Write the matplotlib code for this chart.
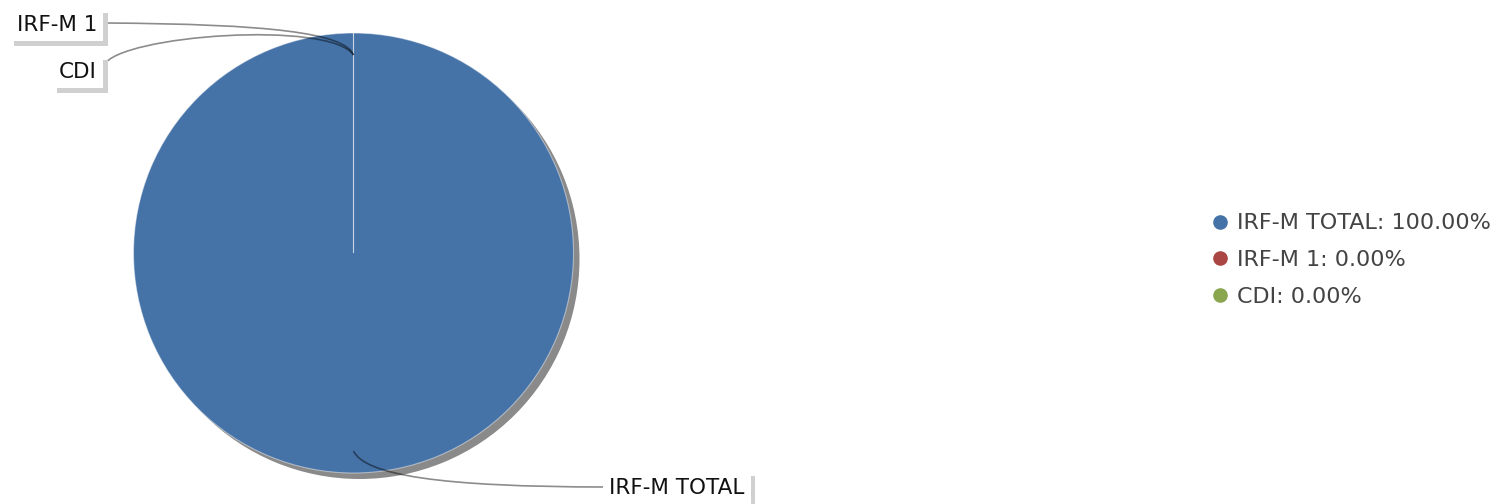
import numpy as np
import matplotlib.pyplot as plt
from matplotlib.path import Path
from matplotlib.patches import PathPatch
from matplotlib.lines import Line2D
import matplotlib.patheffects as pe

# dane
nazwy = ["IRF-M TOTAL", "IRF-M 1", "CDI"]
wartosci = [100.0, 0.0, 0.0]
kolory = ["#4572A7", "#AA4643", "#89A54E"]

W, H = 1499, 504
fig = plt.figure(figsize=(W / 100, H / 100), dpi=100)
ax = fig.add_axes([0, 0, 1, 1])

# srodek i promien kola w pikselach (y liczone od dolu)
cx, cy, R = 353.5, H - 253, 220

wedges, _ = ax.pie(wartosci, colors=kolory, startangle=90, counterclock=False,
                   center=(cx, cy), radius=R, frame=True,
                   wedgeprops=dict(edgecolor=(1, 1, 1, 0.45), linewidth=0.8),
                   shadow=dict(ox=6 * 0.72, oy=-6 * 0.72, facecolor="#8a8a8a",
                               edgecolor="none", alpha=1.0))
ax.set_xlim(0, W)
ax.set_ylim(0, H)
ax.set_aspect("auto")
ax.axis("off")

# punkty zaczepienia etykiet (srodek kata kazdego wycinka)
frac = np.array(wartosci) / sum(wartosci)
cum = np.cumsum(frac) - frac
theta = np.deg2rad(90 - 360 * (cum + frac / 2))
ax_pts = [(cx + (R - 22) * np.cos(t), cy + (R - 22) * np.sin(t)) for t in theta]

# pozycje etykiet (piksele od gory) i punkty kontrolne krzywych
etykiety = {
    "IRF-M TOTAL": dict(xy=(609, 488), ha="left", start=(607, 487),
                        c1=(440, 487), c2=(365, 475)),
    "IRF-M 1": dict(xy=(97, 25), ha="right", start=(104, 23),
                    c1=(270, 24), c2=(345, 33)),
    "CDI": dict(xy=(97, 72), ha="right", start=(104, 65),
                c1=(120, 35), c2=(330, 20)),
}

for i, n in enumerate(nazwy):
    e = etykiety[n]
    p0 = (e["start"][0], H - e["start"][1])
    p1 = (e["c1"][0], H - e["c1"][1])
    p2 = (e["c2"][0], H - e["c2"][1])
    p3 = ax_pts[i]
    path = Path([p0, p1, p2, p3], [Path.MOVETO, Path.CURVE4, Path.CURVE4, Path.CURVE4])
    ax.add_patch(PathPatch(path, facecolor="none", edgecolor=(0, 0, 0, 0.45),
                           linewidth=1.2, zorder=5))
    t = ax.text(e["xy"][0], H - e["xy"][1], n, ha=e["ha"], va="center",
                fontsize=15.5, color="#111111", zorder=6,
                bbox=dict(boxstyle="square,pad=0.3", facecolor="white",
                          edgecolor="none"))
    t.get_bbox_patch().set_path_effects([
        pe.SimplePatchShadow(offset=(3, -3), shadow_rgbFace="#d0d0d0", alpha=1.0),
        pe.Normal()])

# legenda
uchwyty = [Line2D([], [], marker="o", linestyle="none", markersize=9.5,
                  markerfacecolor=k, markeredgecolor=k) for k in kolory]
opisy = [f"{n}: {v:.2f}%" for n, v in zip(nazwy, wartosci)]
leg = ax.legend(uchwyty, opisy, loc="center left", bbox_to_anchor=(1211 / W, 1 - 260 / H),
                frameon=False, fontsize=16, labelspacing=0.75, handletextpad=0.35,
                handlelength=0.8, borderaxespad=0, borderpad=0)
for tx in leg.get_texts():
    tx.set_color("#444444")

fig.savefig("out.png", dpi=100)
